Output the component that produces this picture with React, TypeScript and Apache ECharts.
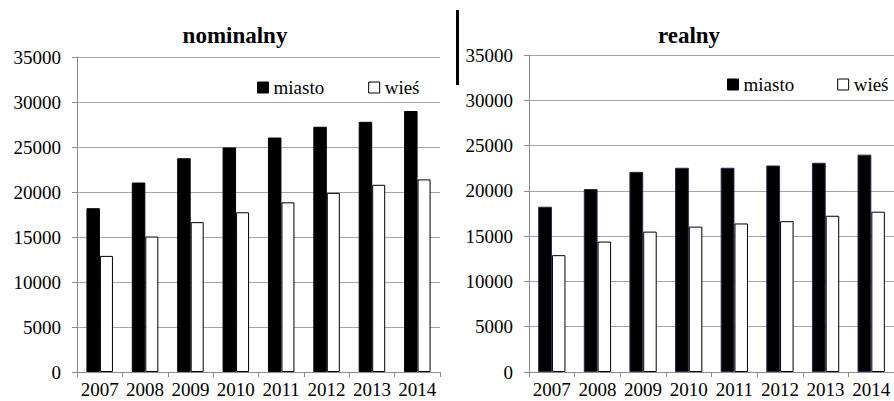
import React, { useEffect, useRef } from "react";
import * as echarts from "echarts";

const years = ["2007", "2008", "2009", "2010", "2011", "2012", "2013", "2014"];
const nominalMiasto = [18200, 21050, 23750, 24950, 26050, 27250, 27800, 29000];
const nominalWies = [12900, 15050, 16650, 17750, 18850, 19900, 20800, 21400];
const realMiasto = [18250, 20200, 22100, 22550, 22550, 22800, 23100, 24000];
const realWies = [12900, 14400, 15500, 16050, 16400, 16650, 17250, 17700];
const yMax = 35000;
const yStep = 5000;
const titles = ["nominalny", "realny"];
const seriesNames = ["miasto", "wieś"];

const FONT = "Liberation Serif";

export default function App() {
  const ref = useRef<HTMLDivElement>(null);
  useEffect(() => {
    if (!ref.current) return;
    const chart = echarts.init(ref.current, null, { renderer: "svg" });
    const gridColor = "#a6a6a6";
    const axisColor = "#8c8c8c";
    const xAxisBase = (gridIndex: number) => ({
      type: "category",
      gridIndex,
      data: years,
      axisLine: { lineStyle: { color: axisColor, width: 1 } },
      axisTick: { show: true, length: 5, lineStyle: { color: axisColor } },
      axisLabel: { color: "#000", fontFamily: FONT, fontSize: 19, margin: 8, interval: 0 },
    });
    const yAxisBase = (gridIndex: number) => ({
      type: "value",
      gridIndex,
      min: 0,
      max: yMax,
      interval: yStep,
      axisLine: { show: true, lineStyle: { color: axisColor, width: 1 } },
      axisTick: { show: true, length: 5, lineStyle: { color: axisColor } },
      splitLine: { show: true, lineStyle: { color: gridColor, width: 1 } },
      axisLabel: {
        color: "#000",
        fontFamily: FONT,
        fontSize: 19,
        margin: 16,
        formatter: (v: number) => String(v),
      },
    });
    const barBlack = (xi: number, data: number[], bw: number) => ({
      type: "bar",
      name: seriesNames[0],
      xAxisIndex: xi,
      yAxisIndex: xi,
      data,
      barWidth: bw,
      barGap: "0%",
      itemStyle: { color: "#000", borderColor: xi === 1 ? "#2e2650" : "#000", borderWidth: 1 },
    });
    const barWhite = (xi: number, data: number[], bw: number) => ({
      type: "bar",
      name: seriesNames[1],
      xAxisIndex: xi,
      yAxisIndex: xi,
      data,
      barWidth: bw,
      barGap: "0%",
      itemStyle: { color: "#fff", borderColor: "#000", borderWidth: 1 },
    });
    const legendText = { color: "#000", fontFamily: FONT, fontSize: 19 };
    const legendBase = (left: number, top: number, gap: number) => ({
      left,
      top,
      orient: "horizontal",
      itemWidth: 11,
      itemHeight: 11,
      itemGap: gap,
      icon: "rect",
      selectedMode: false,
      textStyle: legendText,
      data: [
        {
          name: seriesNames[0],
          itemStyle: { color: "#000", borderColor: "#000", borderWidth: 1 },
          textStyle: legendText,
        },
        {
          name: seriesNames[1],
          itemStyle: { color: "#fff", borderColor: "#000", borderWidth: 1 },
          textStyle: legendText,
        },
      ],
    });
    const titleText = { fontFamily: FONT, fontSize: 23, fontWeight: "bold", color: "#000" };
    chart.setOption({
      animation: false,
      backgroundColor: "#fff",
      textStyle: { fontFamily: FONT },
      title: [
        { text: titles[0], left: 230, top: 19, textAlign: "center", textStyle: titleText },
        { text: titles[1], left: 684, top: 19, textAlign: "center", textStyle: titleText },
      ],
      legend: [legendBase(252, 73, 44), legendBase(722, 70, 43)],
      grid: [
        { left: 77, right: 454, top: 57, bottom: 29, containLabel: false },
        { left: 529, right: -2, top: 55, bottom: 29, containLabel: false },
      ],
      xAxis: [xAxisBase(0), xAxisBase(1)],
      yAxis: [yAxisBase(0), yAxisBase(1)],
      series: [
        barBlack(0, nominalMiasto, 13.5),
        barWhite(0, nominalWies, 13),
        barBlack(1, realMiasto, 13.8),
        barWhite(1, realWies, 13.5),
      ],
      graphic: [
        {
          type: "rect",
          left: 456,
          top: 10,
          shape: { width: 3, height: 75 },
          style: { fill: "#000" },
        },
      ],
    });
    return () => chart.dispose();
  }, []);
  return (
    <div
      ref={ref}
      style={{ position: "fixed", left: 0, top: 0, width: 894, height: 401 }}
    />
  );
}
